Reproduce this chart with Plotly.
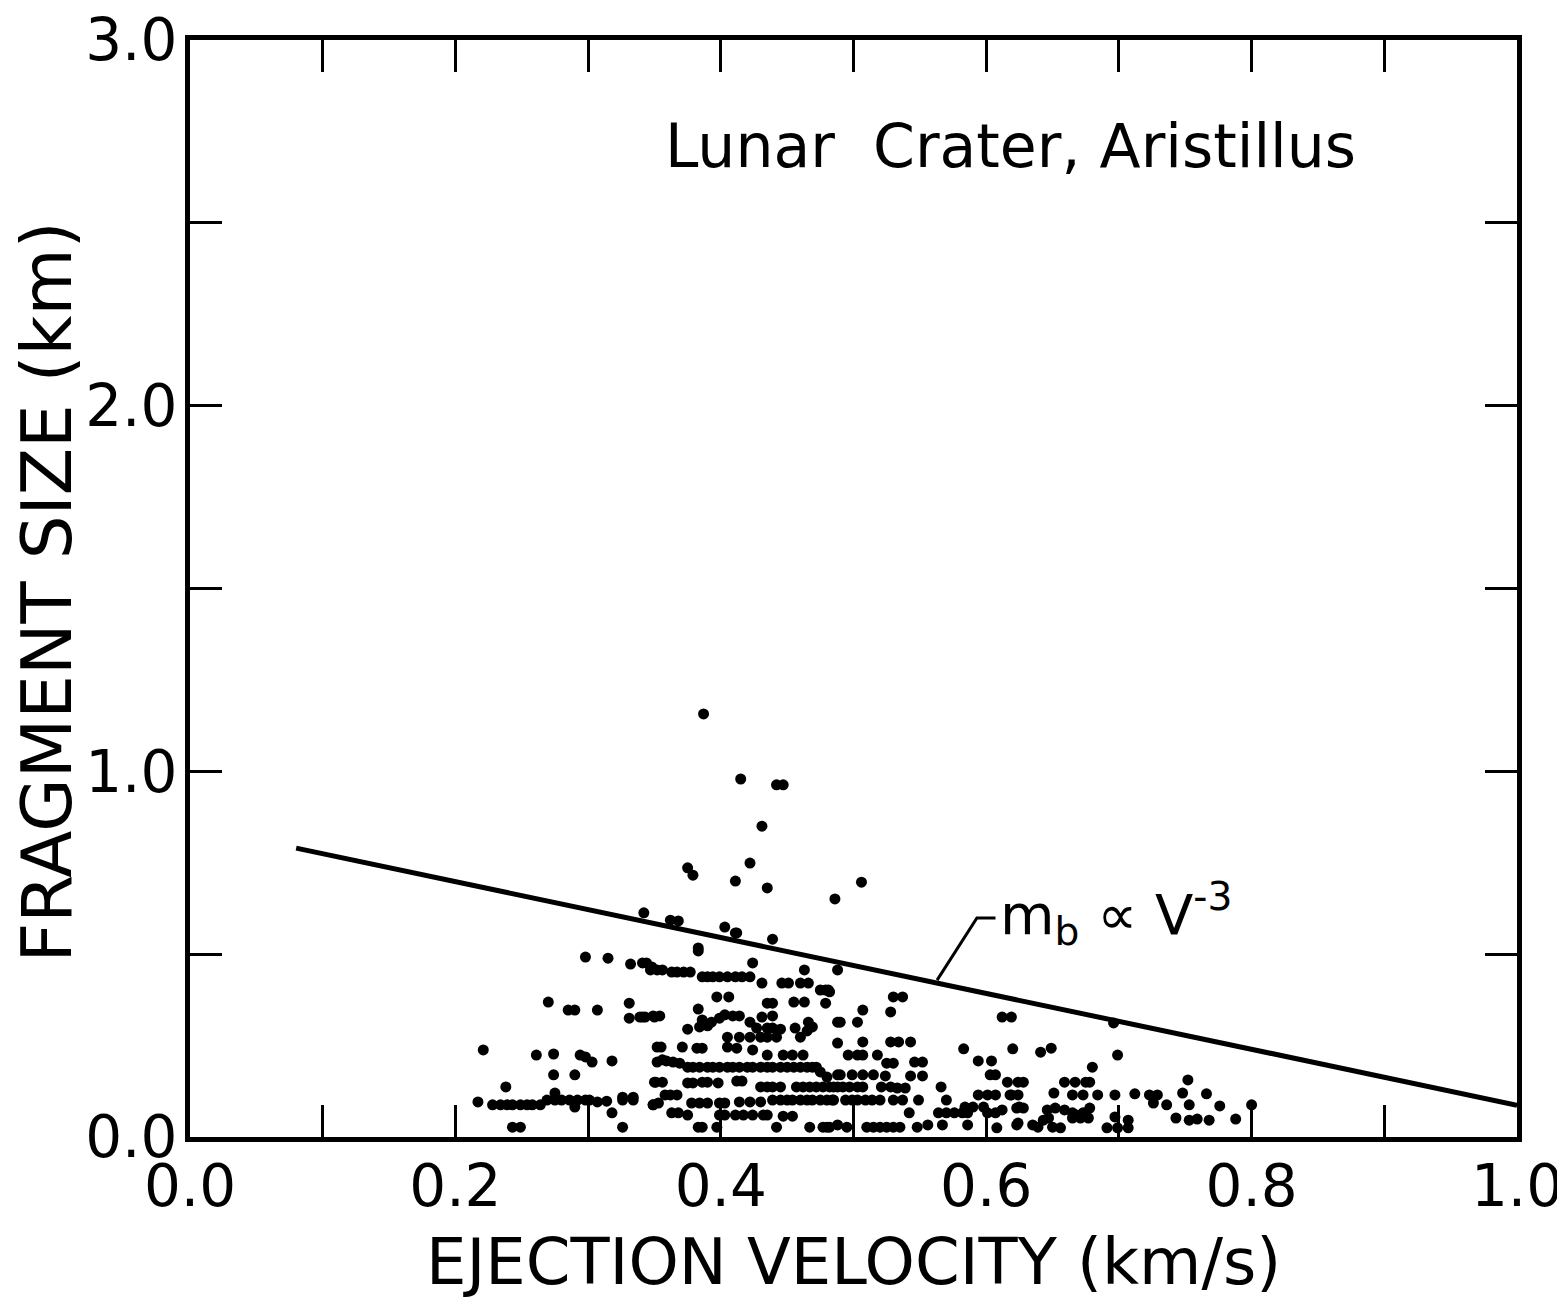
import plotly.graph_objects as go

# Scatter data: ejection velocity (km/s) and fragment size (km)
pts = [
    # left cluster
    (0.298,0.492),(0.315,0.489),(0.332,0.473),(0.341,0.476),(0.347,0.457),
    (0.270,0.369),(0.285,0.347),(0.290,0.347),(0.307,0.347),(0.331,0.366),
    (0.331,0.325),(0.339,0.328),(0.343,0.328),(0.350,0.328),
    (0.221,0.238),(0.261,0.224),(0.274,0.227),(0.294,0.224),(0.298,0.219),(0.303,0.205),
    (0.318,0.208),(0.352,0.246),(0.352,0.205),
    (0.274,0.170),(0.290,0.170),(0.238,0.137),(0.351,0.150),
    (0.217,0.096),
    (0.228,0.088),(0.234,0.088),(0.239,0.088),(0.243,0.088),(0.249,0.088),(0.254,0.088),(0.258,0.088),(0.264,0.088),
    (0.275,0.120),
    (0.269,0.101),(0.275,0.101),(0.280,0.101),(0.286,0.101),(0.292,0.101),(0.298,0.101),(0.301,0.101),
    (0.307,0.096),(0.314,0.098),(0.326,0.109),(0.334,0.109),(0.326,0.101),(0.334,0.101),
    (0.318,0.066),(0.243,0.027),(0.249,0.027),(0.326,0.027),(0.349,0.088),(0.290,0.082),
    # central cluster
    (0.383,0.509),
    (0.344,0.476),(0.348,0.465),(0.352,0.457),(0.356,0.457),(0.363,0.451),(0.367,0.451),(0.372,0.451),(0.377,0.451),
    (0.386,0.438),(0.390,0.438),(0.394,0.438),(0.399,0.438),(0.405,0.438),(0.411,0.438),(0.416,0.438),(0.422,0.438),
    (0.424,0.476),(0.463,0.457),(0.488,0.457),(0.431,0.421),(0.446,0.421),(0.451,0.421),(0.460,0.421),(0.466,0.421),
    (0.475,0.402),(0.481,0.402),(0.397,0.383),(0.406,0.383),(0.435,0.366),(0.439,0.366),(0.455,0.369),(0.463,0.369),
    (0.479,0.366),(0.383,0.350),
    (0.341,0.328),(0.349,0.331),(0.354,0.331),
    (0.386,0.320),(0.393,0.314),(0.399,0.325),(0.403,0.334),(0.409,0.331),(0.414,0.331),(0.422,0.314),(0.431,0.328),(0.439,0.331),
    (0.375,0.295),(0.384,0.301),(0.390,0.304),
    (0.405,0.273),(0.414,0.273),(0.422,0.273),
    (0.427,0.298),(0.435,0.298),(0.439,0.298),(0.445,0.295),
    (0.430,0.273),(0.435,0.273),(0.442,0.273),
    (0.456,0.298),(0.460,0.273),(0.465,0.290),(0.469,0.301),(0.466,0.314),
    (0.488,0.314),(0.488,0.257),
    (0.355,0.246),(0.371,0.246),(0.382,0.243),(0.386,0.243),
    (0.405,0.246),(0.412,0.243),(0.424,0.238),
    (0.435,0.224),(0.447,0.224),(0.454,0.224),(0.462,0.224),
    (0.356,0.211),(0.359,0.208),(0.364,0.205),(0.369,0.202),
    (0.375,0.191),(0.379,0.191),(0.384,0.191),(0.390,0.191),(0.394,0.191),(0.399,0.191),(0.405,0.191),
    (0.409,0.191),(0.414,0.191),(0.420,0.191),(0.424,0.191),(0.430,0.191),(0.435,0.191),(0.439,0.191),
    (0.445,0.191),(0.450,0.191),(0.455,0.191),(0.460,0.191),(0.465,0.191),(0.469,0.191),(0.472,0.191),
    (0.475,0.178),(0.480,0.164),(0.488,0.170),
    (0.350,0.150),(0.356,0.150),
    (0.375,0.148),(0.379,0.148),(0.386,0.150),(0.390,0.150),(0.398,0.148),
    (0.412,0.153),(0.416,0.153),
    (0.430,0.137),(0.435,0.137),(0.439,0.137),(0.445,0.137),
    (0.457,0.137),(0.462,0.137),(0.467,0.137),(0.472,0.137),(0.477,0.137),(0.485,0.137),
    (0.358,0.115),(0.362,0.115),(0.367,0.115),
    (0.349,0.088),(0.353,0.093),
    (0.378,0.093),(0.384,0.093),(0.390,0.093),(0.399,0.093),(0.403,0.093),
    (0.414,0.096),(0.422,0.096),(0.430,0.096),
    (0.439,0.101),(0.445,0.101),(0.450,0.101),(0.454,0.101),(0.460,0.101),(0.465,0.101),(0.469,0.101),
    (0.475,0.101),(0.480,0.101),(0.485,0.101),
    (0.363,0.066),(0.368,0.066),(0.375,0.060),
    (0.399,0.060),(0.403,0.060),(0.411,0.060),(0.417,0.060),(0.424,0.060),(0.432,0.060),(0.435,0.060),
    (0.447,0.057),(0.454,0.057),
    (0.383,0.027),(0.386,0.027),(0.397,0.027),(0.442,0.027),(0.467,0.027),(0.480,0.027),(0.488,0.033),
    # right-central cluster
    (0.479,0.402),(0.482,0.397),(0.530,0.383),(0.537,0.383),(0.507,0.347),(0.528,0.342),
    (0.490,0.314),(0.503,0.314),(0.612,0.328),(0.619,0.328),
    (0.507,0.260),(0.528,0.260),(0.534,0.260),(0.543,0.260),
    (0.496,0.224),(0.503,0.224),(0.507,0.224),(0.518,0.224),
    (0.525,0.202),(0.530,0.202),(0.546,0.205),(0.552,0.205),
    (0.583,0.241),(0.620,0.241),(0.594,0.208),(0.604,0.208),
    (0.490,0.170),(0.499,0.170),(0.507,0.170),(0.515,0.170),(0.524,0.167),(0.543,0.167),(0.552,0.167),
    (0.603,0.170),(0.607,0.170),(0.616,0.150),(0.624,0.150),
    (0.482,0.137),(0.488,0.137),(0.492,0.137),(0.497,0.137),(0.503,0.137),(0.507,0.137),
    (0.521,0.137),(0.528,0.137),(0.533,0.134),(0.539,0.134),(0.566,0.137),
    (0.484,0.101),(0.494,0.101),(0.499,0.101),(0.503,0.101),(0.509,0.101),(0.514,0.101),(0.520,0.101),
    (0.530,0.101),(0.537,0.101),(0.549,0.101),(0.570,0.101),
    (0.594,0.115),(0.601,0.115),(0.607,0.115),(0.619,0.115),(0.624,0.115),
    (0.542,0.066),(0.564,0.066),(0.570,0.066),(0.576,0.066),(0.582,0.066),(0.586,0.066),
    (0.584,0.082),(0.590,0.082),(0.598,0.082),(0.601,0.066),(0.607,0.066),(0.612,0.074),(0.623,0.079),
    (0.477,0.027),(0.482,0.027),(0.495,0.027),
    (0.510,0.027),(0.515,0.027),(0.520,0.027),(0.525,0.027),(0.530,0.027),(0.535,0.027),
    (0.548,0.027),(0.556,0.033),(0.567,0.033),(0.586,0.033),(0.608,0.025),(0.623,0.033),
    # right cluster
    (0.696,0.312),(0.641,0.232),(0.649,0.243),(0.699,0.224),(0.680,0.191),
    (0.628,0.150),(0.659,0.150),(0.667,0.150),(0.675,0.150),(0.678,0.150),(0.752,0.156),
    (0.618,0.115),(0.651,0.120),(0.665,0.115),(0.673,0.115),(0.684,0.115),(0.697,0.115),(0.712,0.118),
    (0.723,0.115),(0.729,0.115),(0.726,0.093),(0.748,0.120),(0.766,0.118),
    (0.625,0.082),(0.628,0.079),(0.646,0.074),(0.652,0.079),(0.659,0.074),(0.665,0.066),(0.668,0.060),
    (0.673,0.066),(0.678,0.079),
    (0.736,0.088),(0.753,0.088),(0.776,0.085),(0.800,0.088),
    (0.643,0.046),(0.647,0.052),(0.665,0.052),(0.671,0.052),(0.677,0.052),(0.697,0.055),(0.707,0.046),
    (0.743,0.052),(0.753,0.046),(0.759,0.049),(0.768,0.046),(0.788,0.049),
    (0.624,0.038),(0.635,0.033),(0.639,0.027),(0.650,0.027),(0.656,0.025),(0.691,0.025),(0.699,0.025),(0.707,0.025),
    # upper outliers
    (0.387,1.157),(0.415,0.979),(0.442,0.963),(0.447,0.963),(0.431,0.850),(0.422,0.749),(0.375,0.736),
    (0.379,0.716),(0.411,0.700),(0.506,0.697),(0.435,0.681),(0.486,0.651),
    (0.342,0.613),(0.362,0.593),(0.368,0.591),(0.403,0.574),(0.411,0.558),(0.412,0.558),(0.439,0.541),(0.383,0.517),
]
velocity = [p[0] for p in pts]
frag_size = [p[1] for p in pts]

# m_b ∝ V^-3 boundary line (as drawn) and label leader
line_v = [0.08, 1.0]
line_size = [0.79, 0.087]
leader_v = [0.563, 0.593, 0.607]
leader_size = [0.429, 0.599, 0.599]

x_tickvals = [0.0, 0.1, 0.2, 0.3, 0.4, 0.5, 0.6, 0.7, 0.8, 0.9, 1.0]
x_ticktext = ["0.0", "", "0.2", "", "0.4", "", "0.6", "", "0.8", "", "1.0"]
y_tickvals = [0.0, 0.5, 1.0, 1.5, 2.0, 2.5, 3.0]
y_ticktext = ["0.0", "", "1.0", "", "2.0", "", "3.0"]

FONT = "DejaVu Sans"

fig = go.Figure()
fig.add_trace(go.Scatter(x=velocity, y=frag_size, mode="markers",
                         marker=dict(color="black", size=11), hoverinfo="skip"))
fig.add_trace(go.Scatter(x=line_v, y=line_size, mode="lines",
                         line=dict(color="black", width=5), hoverinfo="skip"))
fig.add_trace(go.Scatter(x=leader_v, y=leader_size, mode="lines",
                         line=dict(color="black", width=3), hoverinfo="skip"))

fig.add_annotation(x=0.618, y=2.71, text="Lunar  Crater, Aristillus", showarrow=False,
                   font=dict(family=FONT, size=60, color="black"), xanchor="center", yanchor="middle")
fig.add_annotation(x=0.609, y=0.61, text="m<sub>b</sub> ∝ V<sup>-3</sup>", showarrow=False,
                   font=dict(family=FONT, size=56, color="black"), xanchor="left", yanchor="middle")

# axis titles
fig.add_annotation(xref="paper", yref="paper", x=0.5, y=-0.114, text="EJECTION VELOCITY (km/s)",
                   showarrow=False, font=dict(family=FONT, size=64, color="black"),
                   xanchor="center", yanchor="middle")
fig.add_annotation(xref="paper", yref="paper", x=-0.108, y=0.497, text="FRAGMENT SIZE (km)",
                   showarrow=False, textangle=-90, font=dict(family=FONT, size=69, color="black"),
                   xanchor="center", yanchor="middle")

axis_common = dict(showline=True, linewidth=5, linecolor="black", mirror="ticks",
                   ticks="inside", ticklen=32, tickwidth=3, tickcolor="black",
                   showgrid=False, zeroline=False, automargin=False,
                   ticklabeloverflow="allow",
                   tickfont=dict(family=FONT, size=58, color="black"))

fig.update_xaxes(range=[0, 1], tickmode="array", tickvals=x_tickvals, ticktext=x_ticktext,
                 ticklabelstandoff=-6, **axis_common)
fig.update_yaxes(range=[0, 3], tickmode="array", tickvals=y_tickvals, ticktext=y_ticktext,
                 ticklabelstandoff=-4, **axis_common)

# page body has an 8px default margin; size the figure to fit the 1565x1305 window
fig.update_layout(width=1557, height=1297, showlegend=False,
                  plot_bgcolor="white", paper_bgcolor="white",
                  margin=dict(l=182, r=48, t=32, b=168))

fig.write_html("out.html")
